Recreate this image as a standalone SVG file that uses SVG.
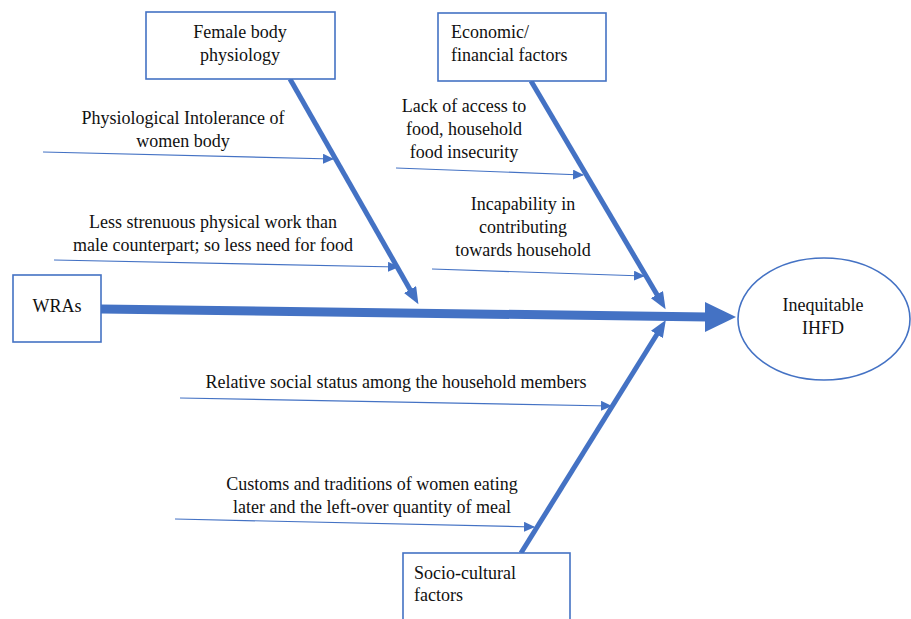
<svg xmlns="http://www.w3.org/2000/svg" width="911" height="619" viewBox="0 0 911 619">
<style>
text{font-family:'Liberation Serif','Times New Roman',serif;font-size:18px;fill:#111}
.m{text-anchor:middle}
.box{fill:#fff;stroke:#4472C4;stroke-width:1.6}
.spine{stroke:#4472C4;stroke-width:5;fill:none}
.thin{stroke:#4472C4;stroke-width:1.2;fill:none}
</style>
<defs>
<marker id="big" markerUnits="userSpaceOnUse" markerWidth="18" markerHeight="14" refX="4" refY="7" orient="auto">
<path d="M0,0 L17,7 L0,14 Z" fill="#4472C4"/>
</marker>
<marker id="small" markerUnits="userSpaceOnUse" markerWidth="12" markerHeight="10" refX="10" refY="5" orient="auto">
<path d="M0,0 L11,5 L0,10 Z" fill="#4472C4"/>
</marker>
</defs>
<rect width="911" height="619" fill="#fff"/>
<g id="connectors">
<line class="thin" x1="43" y1="152" x2="333" y2="159" marker-end="url(#small)"/>
<line class="thin" x1="54" y1="260" x2="398" y2="267" marker-end="url(#small)"/>
<line class="thin" x1="396" y1="168" x2="583" y2="175" marker-end="url(#small)"/>
<line class="thin" x1="432" y1="269" x2="644" y2="276" marker-end="url(#small)"/>
<line class="thin" x1="180" y1="398" x2="611" y2="406" marker-end="url(#small)"/>
<line class="thin" x1="175" y1="519" x2="534" y2="527" marker-end="url(#small)"/>
<line class="spine" x1="290" y1="79" x2="412" y2="293" marker-end="url(#big)"/>
<line class="spine" x1="531" y1="81" x2="659" y2="298" marker-end="url(#big)"/>
<line class="spine" x1="521" y1="553" x2="659" y2="331" marker-end="url(#big)"/>
<line x1="101" y1="309" x2="708" y2="317" stroke="#4472C4" stroke-width="9"/>
<polygon points="705,302 736,317 705,332" fill="#4472C4"/>
</g>
<g id="female">
<rect class="box" x="146" y="12" width="189" height="67"/>
<text class="m" x="240" y="38">Female body</text>
<text class="m" x="240" y="61">physiology</text>
</g>
<g id="economic">
<rect class="box" x="438" y="13" width="168" height="68"/>
<text x="451" y="38">Economic/</text>
<text x="451" y="61">financial factors</text>
</g>
<g id="socio">
<rect class="box" x="403" y="553" width="167" height="70"/>
<text x="414" y="579">Socio-cultural</text>
<text x="414" y="601">factors</text>
</g>
<g id="wras">
<rect class="box" x="13" y="275" width="88" height="67"/>
<text class="m" x="57" y="312">WRAs</text>
</g>
<g id="outcome">
<ellipse cx="824" cy="319" rx="86" ry="61" fill="#fff" stroke="#4472C4" stroke-width="1.6"/>
<text class="m" x="823" y="311">Inequitable</text>
<text class="m" x="823" y="334">IHFD</text>
</g>
<g id="labels">
<text class="m" x="183" y="124">Physiological Intolerance of</text>
<text class="m" x="183" y="147">women body</text>
<text class="m" x="213" y="228">Less strenuous physical work than</text>
<text class="m" x="213" y="251">male counterpart; so less need for food</text>
<text class="m" x="464" y="112">Lack of access to</text>
<text class="m" x="464" y="135">food, household</text>
<text class="m" x="464" y="158">food insecurity</text>
<text class="m" x="523" y="210">Incapability in</text>
<text class="m" x="523" y="233">contributing</text>
<text class="m" x="523" y="256">towards household</text>
<text class="m" x="396" y="388">Relative social status among the household members</text>
<text class="m" x="372" y="490">Customs and traditions of women eating</text>
<text class="m" x="372" y="513">later and the left-over quantity of meal</text>
</g>
</svg>
